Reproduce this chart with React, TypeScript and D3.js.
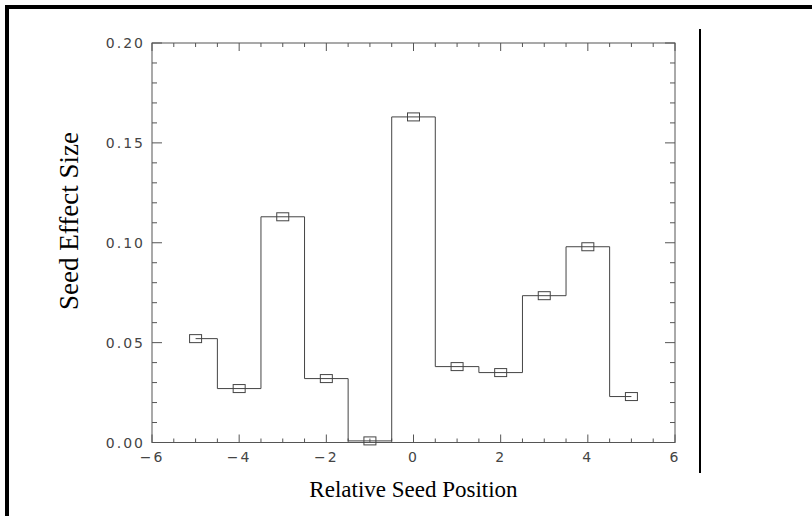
import { useEffect, useRef } from 'react';
import * as d3 from 'd3';

// Seed positions and the effect size
const POSITIONS = [-5, -4, -3, -2, -1, 0, 1, 2, 3, 4, 5];
const EFFECT = [0.052, 0.027, 0.113, 0.032, 0.0008, 0.163, 0.038, 0.035, 0.0735, 0.098, 0.023];

const X_MAJOR = [-6, -4, -2, 0, 2, 4, 6];
const Y_MAJOR = [0, 0.05, 0.1, 0.15, 0.2];

const AXIS_COLOR = "#555";
const LINE_COLOR = "#444";
const TEXT_COLOR = "#444";

export default function App() {
  const ref = useRef<SVGSVGElement>(null);

  useEffect(() => {
    if (!ref.current) return;
    const svg = d3.select(ref.current);
    svg.selectAll("*").remove();

    const left = 152, right = 675, top = 43, bottom = 442.5;
    const x = d3.scaleLinear().domain([-6, 6]).range([left, right]);
    const y = d3.scaleLinear().domain([0, 0.2]).range([bottom, top]);

    // outer page frame
    svg.append("line").attr("x1", 5).attr("x2", 812).attr("y1", 7).attr("y2", 7)
      .attr("stroke", "#000").attr("stroke-width", 4);
    svg.append("line").attr("x1", 7).attr("x2", 7).attr("y1", 5).attr("y2", 516)
      .attr("stroke", "#000").attr("stroke-width", 4);
    svg.append("line").attr("x1", 700).attr("x2", 700).attr("y1", 29).attr("y2", 473)
      .attr("stroke", "#000").attr("stroke-width", 2);

    // plot box
    svg.append("rect")
      .attr("x", left).attr("y", top)
      .attr("width", right - left).attr("height", bottom - top)
      .attr("fill", "none").attr("stroke", AXIS_COLOR).attr("stroke-width", 1);

    const g = svg.append("g").attr("stroke", AXIS_COLOR).attr("stroke-width", 1);

    // x ticks (bottom and top, inward)
    const xMinor = d3.range(-6, 6.001, 0.5);
    xMinor.forEach(v => {
      const major = Math.abs(v % 2) < 1e-6;
      const len = major ? 8 : 4;
      g.append("line").attr("x1", x(v)).attr("x2", x(v)).attr("y1", bottom).attr("y2", bottom - len);
      g.append("line").attr("x1", x(v)).attr("x2", x(v)).attr("y1", top).attr("y2", top + len);
    });

    // y ticks (left and right, inward)
    const yMinor = d3.range(0, 0.2001, 0.01);
    yMinor.forEach((v, i) => {
      const major = i % 5 === 0;
      const len = major ? 10 : 5;
      g.append("line").attr("x1", left).attr("x2", left + len).attr("y1", y(v)).attr("y2", y(v));
      g.append("line").attr("x1", right).attr("x2", right - len).attr("y1", y(v)).attr("y2", y(v));
    });

    const labelFont = "'DejaVu Sans', sans-serif";

    svg.append("g").selectAll("text")
      .data(X_MAJOR)
      .join("text")
      .attr("x", d => x(d))
      .attr("y", 462)
      .attr("text-anchor", "middle")
      .attr("font-family", labelFont)
      .attr("font-size", 14)
      .attr("letter-spacing", 2)
      .attr("fill", TEXT_COLOR)
      .text(d => d3.format("d")(d));

    svg.append("g").selectAll("text")
      .data(Y_MAJOR)
      .join("text")
      .attr("x", 145)
      .attr("y", d => y(d))
      .attr("dy", "0.36em")
      .attr("text-anchor", "end")
      .attr("font-family", labelFont)
      .attr("font-size", 14)
      .attr("letter-spacing", 2)
      .attr("fill", TEXT_COLOR)
      .text(d => d3.format(".2f")(d));

    // step histogram
    const pts: [number, number][] = POSITIONS.map((p, i) => [p, EFFECT[i]]);
    const line = d3.line<[number, number]>()
      .x(d => x(d[0]))
      .y(d => y(d[1]))
      .curve(d3.curveStep);

    svg.append("path")
      .attr("d", line(pts))
      .attr("fill", "none")
      .attr("stroke", LINE_COLOR)
      .attr("stroke-width", 1);

    // square markers
    svg.append("g").selectAll("rect")
      .data(pts)
      .join("rect")
      .attr("x", d => x(d[0]) - 6)
      .attr("y", d => y(d[1]) - 4)
      .attr("width", 12)
      .attr("height", 8)
      .attr("fill", "none")
      .attr("stroke", LINE_COLOR)
      .attr("stroke-width", 1);

    // axis titles
    svg.append("text")
      .attr("x", (left + right) / 2)
      .attr("y", 497)
      .attr("text-anchor", "middle")
      .attr("font-family", "'Liberation Serif', 'Times New Roman', serif")
      .attr("font-size", 23)
      .attr("fill", "#000")
      .text("Relative Seed Position");

    svg.append("text")
      .attr("transform", `translate(78, 221) rotate(-90)`)
      .attr("text-anchor", "middle")
      .attr("font-family", "'Liberation Serif', 'Times New Roman', serif")
      .attr("font-size", 27)
      .attr("fill", "#000")
      .text("Seed Effect Size");
  }, []);

  return (
    <svg
      ref={ref}
      width={812}
      height={516}
      style={{ position: 'absolute', left: 0, top: 0, background: '#fff' }}
    />
  );
}
